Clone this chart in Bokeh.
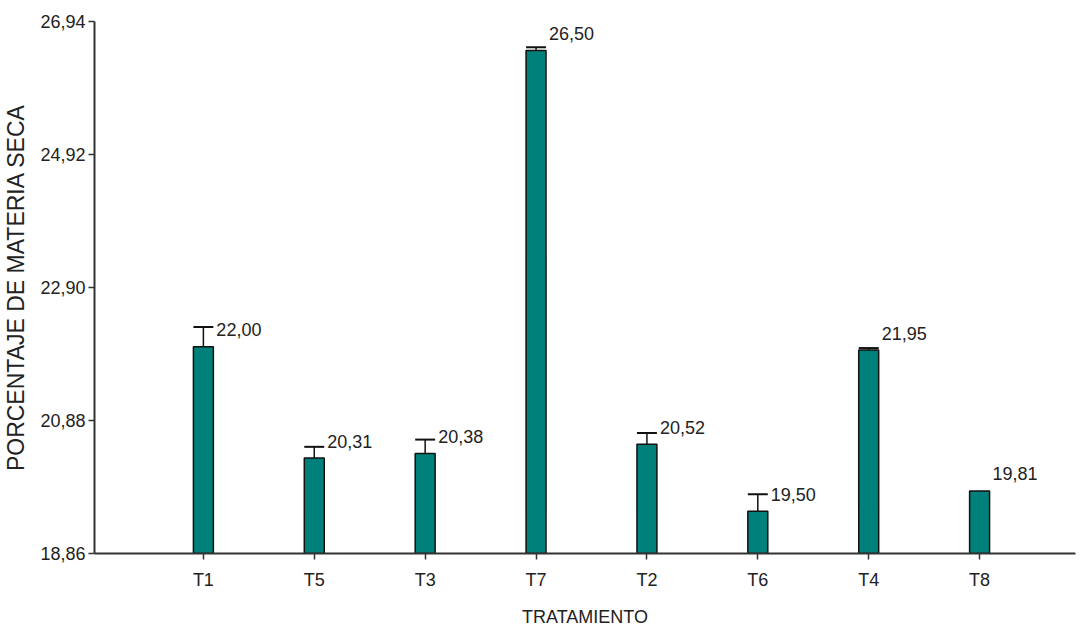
from bokeh.plotting import figure
from bokeh.models import ColumnDataSource, FixedTicker, Range1d
from bokeh.core.properties import value
from bokeh.embed import file_html
from bokeh.resources import INLINE

# Treatments in display order, mean dry-matter percentage and standard error
treatments = ["T1", "T5", "T3", "T7", "T2", "T6", "T4", "T8"]
means = [22.00, 20.31, 20.38, 26.50, 20.52, 19.50, 21.95, 19.81]
errors = [0.30, 0.17, 0.21, 0.05, 0.17, 0.26, 0.03, 0.00]
mean_labels = ["22,00", "20,31", "20,38", "26,50", "20,52", "19,50", "21,95", "19,81"]

# Y axis ticks and their comma-decimal labels
y_ticks = [18.86, 20.88, 22.90, 24.92, 26.94]
y_tick_labels = ["18,86", "20,88", "22,90", "24,92", "26,94"]

BAR_W = 0.18
NARROW = "Liberation Sans Narrow, Arial Narrow, Liberation Sans, sans-serif"

positions = list(range(1, len(treatments) + 1))
src = ColumnDataSource(dict(
    x=positions,
    mean=means,
    top=[m + e for m, e in zip(means, errors)],
    label=mean_labels,
    label_x=[x + BAR_W / 2 for x in positions],
))
err_src = ColumnDataSource(dict(
    x=[x for x, e in zip(positions, errors) if e > 0],
    mean=[m for m, e in zip(means, errors) if e > 0],
    top=[m + e for m, e in zip(means, errors) if e > 0],
))
err_src.data["x0"] = [x - BAR_W / 2 for x in err_src.data["x"]]
err_src.data["x1"] = [x + BAR_W / 2 for x in err_src.data["x"]]

p = figure(width=1081, height=635, output_backend="svg", toolbar_location=None,
           x_range=Range1d(0.018, 8.865), y_range=Range1d(y_ticks[0], y_ticks[-1]),
           min_border_left=93, min_border_right=6, min_border_top=21, min_border_bottom=82)
p.outline_line_color = None
p.xgrid.grid_line_color = None
p.ygrid.grid_line_color = None
p.background_fill_color = "white"
p.border_fill_color = "white"

# Bars rising from the bottom of the axis
p.vbar(x="x", width=BAR_W, bottom=y_ticks[0], top="mean", source=src,
       fill_color="#00807A", line_color="#111111", line_width=1.5)

# One-sided error bars
p.segment(x0="x", y0="mean", x1="x", y1="top", source=err_src,
          line_color="#111111", line_width=1.5)
p.segment(x0="x0", y0="top", x1="x1", y1="top", source=err_src,
          line_color="#111111", line_width=2)

# Mean value labels
p.text(x="label_x", y="mean", text="label", source=src, x_offset=3, y_offset=-17,
       text_baseline="middle", text_align="left", text_font=value(NARROW),
       text_font_size="18px", text_color="#222222")

# Axes
p.xaxis.ticker = FixedTicker(ticks=positions)
p.xaxis.major_label_overrides = {x: t for x, t in zip(positions, treatments)}
p.yaxis.ticker = FixedTicker(ticks=y_ticks)
p.yaxis.major_label_overrides = {v: t for v, t in zip(y_ticks, y_tick_labels)}

for ax in (p.xaxis[0], p.yaxis[0]):
    ax.axis_line_color = "#333333"
    ax.axis_line_width = 2
    ax.major_tick_line_color = "#333333"
    ax.major_tick_line_width = 1.5
    ax.major_tick_in = 0
    ax.major_tick_out = 6
    ax.minor_tick_line_color = None
    ax.major_label_text_font = NARROW
    ax.major_label_text_font_size = "18px"
    ax.major_label_text_color = "#222222"

p.xaxis.axis_label = "TRATAMIENTO"
p.xaxis.axis_label_text_font = NARROW
p.xaxis.axis_label_text_font_size = "18px"
p.xaxis.axis_label_text_font_style = "normal"
p.xaxis.axis_label_text_color = "#222222"
p.xaxis.major_label_standoff = 10
p.xaxis.axis_label_standoff = 14

p.yaxis.axis_label = "PORCENTAJE DE MATERIA SECA"
p.yaxis.axis_label_text_font = "Liberation Sans, Arial, sans-serif"
p.yaxis.axis_label_text_font_size = "23px"
p.yaxis.axis_label_text_font_style = "normal"
p.yaxis.axis_label_text_color = "#222222"
p.yaxis.major_label_standoff = 3
p.yaxis.axis_label_standoff = 8

open("out.html", "w").write(file_html(p, INLINE))
